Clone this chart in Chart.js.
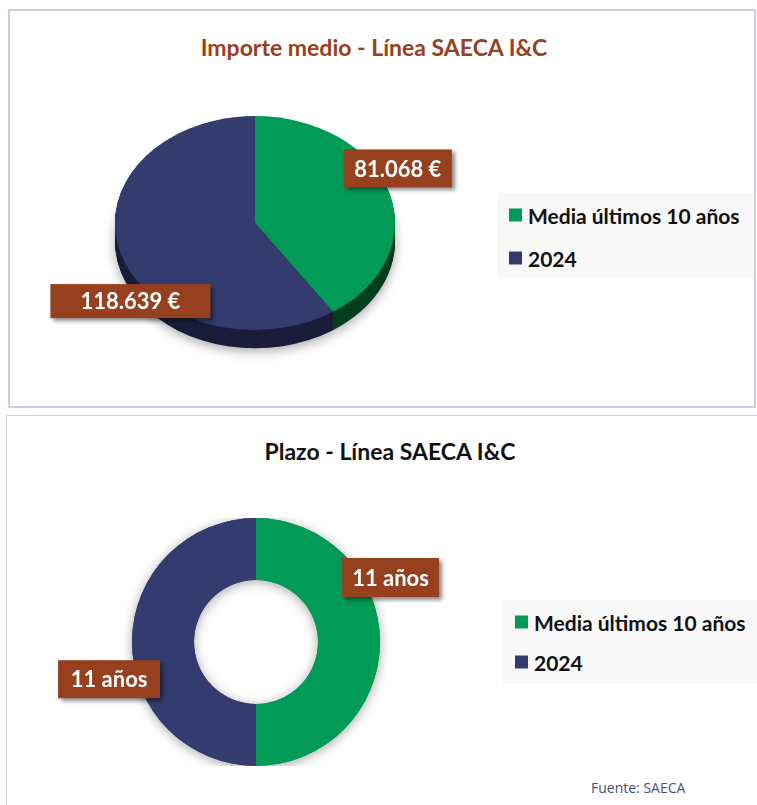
<!DOCTYPE html>
<html>
<head>
<meta charset="utf-8">
<script src="https://cdn.jsdelivr.net/npm/chart.js@4.4.1/dist/chart.umd.min.js"></script>
<style>
  body { margin:0; width:757px; height:805px; position:relative; overflow:hidden; background:#fff;
         font-family: Lato, 'Open Sans', sans-serif; }
  .panel { position:absolute; box-sizing:border-box; }
  #panelTop { left:8px; top:9px; width:748px; height:399px; border:2px solid #c9cdea; }
  #panelBottom { left:6px; top:415px; width:800px; height:420px; border:1.5px solid #d2d2d2; }
  .title { position:absolute; font-weight:700; font-size:23px; white-space:nowrap; transform:translate(-50%,-50%); }
  .legend { position:absolute; background:#f8f8f8; box-sizing:border-box; }
  .legend .row { position:absolute; left:12px; display:flex; align-items:center; font-weight:700;
                 font-size:21px; color:#111; white-space:nowrap; transform:translateY(-50%); }
  .legend .sq { width:13px; height:13px; margin-right:6px; }
  .chartbox { position:absolute; }
  #fuente { position:absolute; left:591px; top:778px; font-size:14px; color:#46507e; font-family:'Open Sans',sans-serif; }
</style>
</head>
<body>
<div class="panel" id="panelTop"></div>
<div class="panel" id="panelBottom"></div>

<div class="title" id="titleTop" style="left:374px; top:47px; color:#9a3f20;">Importe medio - Línea SAECA I&amp;C</div>
<div class="title" id="titleBottom" style="left:390px; top:451px; color:#111;">Plazo - Línea SAECA I&amp;C</div>

<div class="chartbox" style="left:15px; top:83px; width:480px; height:280px;"><canvas id="canvasimporte"></canvas></div>
<div class="chartbox" style="left:16px; top:518px; width:480px; height:248px;"><canvas id="canvasplazo"></canvas></div>

<div class="legend" id="legendTop" style="left:497px; top:193px; width:256px; height:85px;"></div>
<div class="legend" id="legendBottom" style="left:503px; top:600px; width:260px; height:84px;"></div>

<div id="fuente">Fuente: SAECA</div>

<script>
'use strict'

// daten
const categories = [ 'Media últimos 10 años', '2024' ];
const importeValues = [ 81068, 118639 ];
const plazoValues = [ 11, 11 ];

const sliceColors = [ '#019a56', '#343b6f' ];
const sideColors  = [ '#003f1f', '#1a1d3a' ];
const labelColor  = '#97401f';

// 81068 -> "81.068"
const fmtThousands = n => String(n).replace( /\B(?=(\d{3})+(?!\d))/g, '.' );

  //////////////////////////////////////
 // pie flach drücken + seitenwand    //
//////////////////////////////////////

const tiltPlugin = {
  id: 'tilt',
  beforeDatasetsDraw( chart, args, opts ){
    if( !opts.squash ) return;
    const meta = chart.getDatasetMeta(0);
    const cx = meta.data[0].x, cy = meta.data[0].y;
    const ctx = chart.ctx;
    ctx.save();
    ctx.translate( cx, cy );
    ctx.scale( 1, opts.squash );
    ctx.translate( -cx, -cy );

    for( let d = opts.depth; d > 0; d-- ){
      ctx.save();
      ctx.translate( 0, d );
      if( d === opts.depth ){
        ctx.shadowColor = 'rgba(0,0,0,0.35)';
        ctx.shadowBlur = 12;
        ctx.shadowOffsetY = 3;
      }
      meta.data.forEach(( arc, i ) => {
        ctx.fillStyle = opts.sideColors[i];
        ctx.beginPath();
        ctx.moveTo( cx, cy );
        ctx.arc( cx, cy, arc.outerRadius, arc.startAngle, arc.endAngle );
        ctx.closePath();
        ctx.fill();
      });
      ctx.restore();
    }
  },
  afterDatasetsDraw( chart, args, opts ){
    if( opts.squash ) chart.ctx.restore();
  }
};

// weicher schatten um den ring
const ringShadow = {
  id: 'ringShadow',
  beforeDatasetsDraw( chart, args, opts ){
    if( !opts.blur ) return;
    const ctx = chart.ctx;
    ctx.save();
    ctx.shadowColor = 'rgba(0,0,0,0.35)';
    ctx.shadowBlur = opts.blur;
    ctx.shadowOffsetY = 2;
    chart.getDatasetMeta(0).data.forEach( arc => arc.draw( ctx ) );
    ctx.restore();
  }
};

// braune kästchen mit den werten
const boxLabels = {
  id: 'boxLabels',
  afterDraw( chart, args, opts ){
    const ctx = chart.ctx;
    const meta = chart.getDatasetMeta(0);
    const squash = opts.squash || 1;
    meta.data.forEach(( arc, i ) => {
      const text = opts.texts[i];
      const r = arc.outerRadius;
      const x = arc.x + opts.offsets[i][0] * r;
      const y = arc.y + opts.offsets[i][1] * r * squash;
      ctx.save();
      ctx.font = 'bold 22px Lato, sans-serif';
      const w = Math.max( ctx.measureText( text ).width + 18, opts.minWidth[i] || 0 );
      const h = opts.heights[i];
      ctx.shadowColor = 'rgba(0,0,0,0.45)';
      ctx.shadowBlur = 4;
      ctx.shadowOffsetX = 3;
      ctx.shadowOffsetY = 3;
      ctx.fillStyle = labelColor;
      ctx.fillRect( x - w/2, y - h/2, w, h );
      ctx.shadowColor = 'transparent';
      ctx.fillStyle = '#fff';
      ctx.textAlign = 'center';
      ctx.textBaseline = 'middle';
      ctx.fillText( text, x, y + 1 );
      ctx.restore();
    });
  }
};

Chart.register( tiltPlugin, ringShadow, boxLabels );

const baseOptions = {
  responsive: true,
  maintainAspectRatio: false,
  animation: false,
  events: [],
  layout: { padding: 0 },
  plugins: { legend: { display: false }, tooltip: { enabled: false }, title: { display: false } }
};

new Chart(
  document.getElementById( 'canvasimporte' ),
  {
    type: 'pie',
    data: {
      labels: categories,
      datasets: [{
        data: importeValues,
        backgroundColor: sliceColors,
        borderWidth: 0,
        hoverOffset: 0
      }]
    },
    options: {
      ...baseOptions,
      plugins: {
        ...baseOptions.plugins,
        tilt: { squash: 0.764, depth: 24, sideColors: sideColors },
        boxLabels: {
          squash: 0.764,
          texts: importeValues.map( v => fmtThousands( v ) + ' €' ),
          offsets: [ [ 1.02, -0.51 ], [ -0.89, 0.73 ] ],
          minWidth: [ 108, 160 ],
          heights: [ 38, 34 ]
        }
      }
    }
  }
);

new Chart(
  document.getElementById( 'canvasplazo' ),
  {
    type: 'doughnut',
    data: {
      labels: categories,
      datasets: [{
        data: plazoValues,
        backgroundColor: sliceColors,
        borderWidth: 0,
        hoverOffset: 0
      }]
    },
    options: {
      ...baseOptions,
      cutout: '50%',
      plugins: {
        ...baseOptions.plugins,
        ringShadow: { blur: 12 },
        boxLabels: {
          texts: plazoValues.map( v => v + ' años' ),
          offsets: [ [ 1.085, -0.52 ], [ -1.185, 0.30 ] ],
          minWidth: [ 97, 102 ],
          heights: [ 39, 38 ]
        }
      }
    }
  }
);

// html legende
const fillLegend = ( id, rowTops ) => {
  const box = document.getElementById( id );
  categories.forEach(( cat, i ) => {
    const row = document.createElement( 'div' );
    row.className = 'row';
    row.style.top = rowTops[i] + 'px';
    row.innerHTML = '<span class="sq" style="background:' + sliceColors[i] + '"></span>' + cat;
    box.appendChild( row );
  });
};

fillLegend( 'legendTop', [ 22, 65 ] );
fillLegend( 'legendBottom', [ 22, 62 ] );
</script>
</body>
</html>
